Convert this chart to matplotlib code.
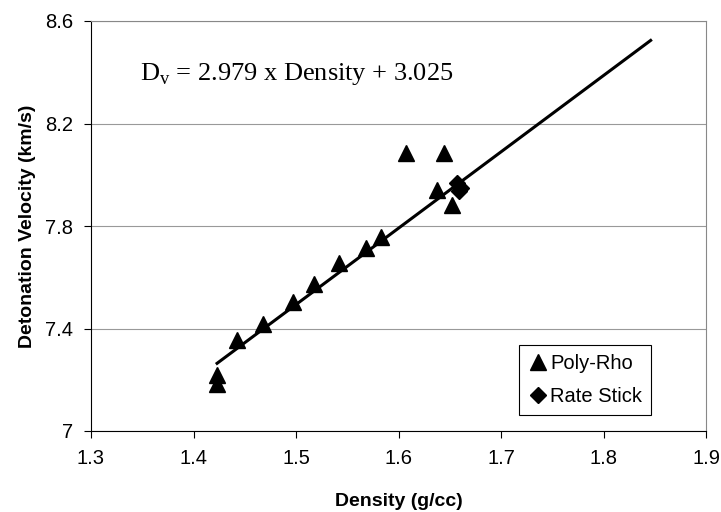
import matplotlib
matplotlib.use('Agg')
import matplotlib.pyplot as plt
import numpy as np

plt.rcParams['font.family'] = ['Liberation Sans', 'DejaVu Sans']
plt.rcParams['mathtext.fontset'] = 'custom'
plt.rcParams['mathtext.rm'] = 'Liberation Serif'

# data
poly_density = [1.423, 1.423, 1.442, 1.468, 1.497, 1.518, 1.542, 1.568, 1.583,
                1.607, 1.644, 1.638, 1.652]
poly_velocity = [7.22, 7.185, 7.357, 7.416, 7.502, 7.573, 7.656, 7.714, 7.759,
                 8.084, 8.084, 7.939, 7.881]
stick_density = [1.657, 1.659, 1.661]
stick_velocity = [7.968, 7.935, 7.948]

slope = 2.979
intercept = 3.025
fit_range = [1.423, 1.846]

fig = plt.figure(figsize=(7.21, 5.12), dpi=100)
ax = fig.add_axes([91/721, 1 - 431/512, (706-91)/721, (431-21)/512])

fx = np.array(fit_range)
ax.plot(fx, slope*fx + intercept, color='black', lw=2.2, zorder=2)
ax.plot(poly_density, poly_velocity, '^', color='black', ms=11, ls='none',
        label='Poly-Rho', zorder=3)
ax.plot(stick_density, stick_velocity, 'D', color='black', ms=8, ls='none',
        label='Rate Stick', zorder=3)

ax.set_xlim(1.3, 1.9)
ax.set_ylim(7, 8.6)
ax.set_xticks(np.arange(1.3, 1.91, 0.1))
ax.set_xticklabels(['1.3', '1.4', '1.5', '1.6', '1.7', '1.8', '1.9'])
ax.set_yticks([7, 7.4, 7.8, 8.2, 8.6])
ax.set_yticklabels(['7', '7.4', '7.8', '8.2', '8.6'])
ax.tick_params(labelsize=14.5, direction='out', length=5, width=0.8, colors='black', pad=8)
ax.yaxis.grid(True, color='#999999', lw=0.8)
ax.set_axisbelow(True)
for s in ['top', 'right']:
    ax.spines[s].set_color('#888888')

ax.set_xlabel('Density (g/cc)', fontsize=14, fontweight='bold', labelpad=18)
ax.set_ylabel('Detonation Velocity (km/s)', fontsize=14, fontweight='bold', labelpad=6)

ax.text(0.08, 0.87, r'D$_\mathrm{v}$ = 2.979 x Density + 3.025', transform=ax.transAxes,
        fontsize=19, family='Liberation Serif', va='center')

leg = ax.legend(loc='lower right', bbox_to_anchor=(0.911, 0.039), fontsize=14.5,
                fancybox=False, edgecolor='black', framealpha=1, handletextpad=0.1,
                handlelength=1.0, borderpad=0.45, labelspacing=0.7, borderaxespad=0)
leg.get_frame().set_linewidth(0.8)

fig.savefig('out.png', dpi=100)
